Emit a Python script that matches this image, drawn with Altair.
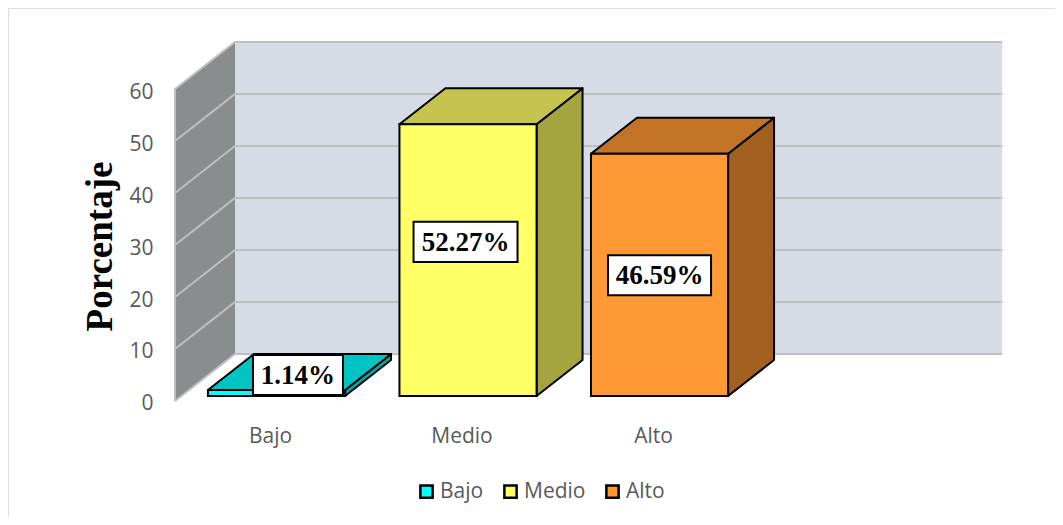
import altair as alt
import pandas as pd

# --- chart values -------------------------------------------------------
categories = ["Bajo", "Medio", "Alto"]
values = [1.14, 52.27, 46.59]
value_labels = ["1.14%", "52.27%", "46.59%"]
front_colors = ["#00FFFF", "#FFFF66", "#FF9933"]
top_colors = ["#00C4C4", "#C4C44E", "#C27326"]
side_colors = ["#00A6A6", "#A5A540", "#A36120"]
y_ticks = [0, 10, 20, 30, 40, 50, 60]

# --- layout and oblique projection --------------------------------------
W, H = 1047, 509
X_DOMAIN = [-1.4021, 4.065]       # category slots across the view
Y_DOMAIN = [-22.31, 75.58]        # value units down the view
DEPTH_X = 0.3133                  # slots of shift from front to back wall
DEPTH_Y = 9.04                    # value units of shift, front to back wall
WALL_LEFT, WALL_RIGHT = -0.53, 3.476
Z_FRONT, Z_DEPTH = 0.106, 0.766   # where the bars stand in the depth
HALF_BAR = 0.358
LABEL_DX = [0.112, -0.013, 0.0]   # label box offset from bar centre, slots
LABEL_CY = [5.0, 30.6, 24.2]      # label box centre height, value units
BOX_W = [0.47, 0.543, 0.538]      # label box full width, slots
BOX_H = 7.7                       # label box full height, value units

x_scale = alt.Scale(domain=X_DOMAIN, range=[0, W], nice=False, zero=False)
y_scale = alt.Scale(domain=Y_DOMAIN, range=[H, 0], nice=False, zero=False)


def px(s, z=0.0):
    return s + z * DEPTH_X


def py(v, z=0.0):
    return v + z * DEPTH_Y


X = alt.X("x:Q", scale=x_scale, axis=None)
Y = alt.Y("y:Q", scale=y_scale, axis=None)

# --- walls --------------------------------------------------------------
top_v, bottom_v = y_ticks[-1], y_ticks[0]
walls = pd.DataFrame(
    [
        dict(x=px(WALL_LEFT, 1), y=py(top_v, 1), y2=py(bottom_v, 1), face="back", fill="#D6DCE5"),
        dict(x=px(WALL_RIGHT, 1), y=py(top_v, 1), y2=py(bottom_v, 1), face="back", fill="#D6DCE5"),
        dict(x=px(WALL_LEFT, 0), y=py(top_v, 0), y2=py(bottom_v, 0), face="left", fill="#8A8D90"),
        dict(x=px(WALL_LEFT, 1), y=py(top_v, 1), y2=py(bottom_v, 1), face="left", fill="#8A8D90"),
    ]
)
walls_layer = (
    alt.Chart(walls)
    .mark_area(orient="vertical")
    .encode(
        x=alt.X(
            "x:Q",
            scale=x_scale,
            axis=alt.Axis(
                values=[0, 1, 2],
                labelExpr="['Bajo','Medio','Alto'][datum.value]",
                grid=False,
                domain=False,
                ticks=False,
                title=None,
                offset=-92,
                labelPadding=0,
                labelOffset=-6.5,
                labelFont="Open Sans",
                labelFontSize=21,
                labelColor="#595959",
            ),
        ),
        y=alt.Y(
            "y:Q",
            scale=y_scale,
            axis=alt.Axis(
                values=y_ticks,
                grid=False,
                domain=False,
                ticks=False,
                offset=-167,
                labelPadding=22,
                labelOffset=3,
                labelFont="Open Sans",
                labelFontSize=21,
                labelColor="#595959",
                title="Porcentaje",
                titleFont="Liberation Serif",
                titleFontWeight="bold",
                titleFontSize=37,
                titleColor="#000000",
                titleX=-56,
                titleY=238,
            ),
        ),
        y2="y2:Q",
        fill=alt.Fill("fill:N", scale=None),
        detail="face:N",
    )
)

# --- grid lines on both walls -------------------------------------------
grid_rows = []
for t in y_ticks:
    grid_rows.append(dict(x=px(WALL_LEFT, 0), y=py(t, 0), line=f"g{t}"))
    grid_rows.append(dict(x=px(WALL_LEFT, 1), y=py(t, 1), line=f"g{t}"))
    grid_rows.append(dict(x=px(WALL_RIGHT, 1), y=py(t, 1), line=f"g{t}"))
grid_rows.append(dict(x=px(WALL_LEFT, 0), y=py(top_v, 0), line="edge"))
grid_rows.append(dict(x=px(WALL_LEFT, 0), y=py(bottom_v, 0), line="edge"))
grid_layer = (
    alt.Chart(pd.DataFrame(grid_rows))
    .mark_line(color="#BFBFBF", strokeWidth=2)
    .encode(x=X, y=Y, detail="line:N")
)

# --- bar side and top faces ---------------------------------------------
z0, z1 = Z_FRONT, Z_FRONT + Z_DEPTH
d_x = Z_DEPTH * DEPTH_X
d_y = Z_DEPTH * DEPTH_Y
face_rows = []
front_rows = []
for i, (cat, v) in enumerate(zip(categories, values)):
    a, b = i - HALF_BAR, i + HALF_BAR
    base, top = py(0, z0), py(v, z0)
    front_rows.append(dict(x=a, x2=b, y=base, y2=top, cat=cat))
    face_rows += [
        dict(x=b, y=top, y2=base, face=f"s{i}", fill=side_colors[i]),
        dict(x=b + d_x, y=top + d_y, y2=base + d_y, face=f"s{i}", fill=side_colors[i]),
        dict(x=a, y=top, y2=top, face=f"t{i}", fill=top_colors[i]),
        dict(x=a + d_x, y=top + d_y, y2=top, face=f"t{i}", fill=top_colors[i]),
        dict(x=b, y=top + d_y, y2=top, face=f"t{i}", fill=top_colors[i]),
        dict(x=b + d_x, y=top + d_y, y2=top + d_y, face=f"t{i}", fill=top_colors[i]),
    ]
faces_layer = (
    alt.Chart(pd.DataFrame(face_rows))
    .mark_area(orient="vertical", stroke="#000000", strokeWidth=2, strokeJoin="round")
    .encode(
        x=X,
        y=Y,
        y2="y2:Q",
        fill=alt.Fill("fill:N", scale=None),
        detail="face:N",
    )
)
front_layer = (
    alt.Chart(pd.DataFrame(front_rows))
    .mark_rect(stroke="#000000", strokeWidth=2)
    .encode(
        x=X,
        x2="x2:Q",
        y=Y,
        y2="y2:Q",
        color=alt.Color(
            "cat:N",
            scale=alt.Scale(domain=categories, range=front_colors),
            legend=alt.Legend(
                title=None,
                orient="none",
                legendX=408,
                legendY=473,
                direction="horizontal",
                columns=3,
                symbolType="square",
                symbolSize=150,
                symbolStrokeColor="#000000",
                symbolStrokeWidth=2.5,
                symbolOpacity=1,
                labelFont="Open Sans",
                labelFontSize=21,
                labelColor="#595959",
                labelOffset=3,
                columnPadding=15,
            ),
        ),
    )
)

# --- data labels --------------------------------------------------------
label_rows = []
for i, txt in enumerate(value_labels):
    cx = i + LABEL_DX[i]
    label_rows.append(
        dict(
            x=cx - BOX_W[i] / 2,
            x2=cx + BOX_W[i] / 2,
            cx=cx,
            y=LABEL_CY[i] - BOX_H / 2,
            y2=LABEL_CY[i] + BOX_H / 2,
            cy=LABEL_CY[i] - 0.2,
            label=txt,
        )
    )
labels = pd.DataFrame(label_rows)
box_layer = (
    alt.Chart(labels)
    .mark_rect(fill="#FFFFFF", stroke="#000000", strokeWidth=2)
    .encode(x=X, x2="x2:Q", y=Y, y2="y2:Q")
)
text_layer = (
    alt.Chart(labels)
    .mark_text(font="Liberation Serif", fontWeight="bold", fontSize=27, color="#000000", baseline="middle")
    .encode(
        x=alt.X("cx:Q", scale=x_scale, axis=None),
        y=alt.Y("cy:Q", scale=y_scale, axis=None),
        text="label:N",
    )
)

# --- outer frame (top and left edges only) ------------------------------
frame_top = alt.Chart(pd.DataFrame({"a": [0]})).mark_rule(color="#DDDDDD", strokeWidth=2).encode(
    x=alt.value(0), x2=alt.value(W), y=alt.value(0)
)
frame_left = alt.Chart(pd.DataFrame({"a": [0]})).mark_rule(color="#DDDDDD", strokeWidth=2).encode(
    x=alt.value(0), y=alt.value(0), y2=alt.value(H)
)

chart = (
    alt.layer(
        frame_top,
        frame_left,
        walls_layer,
        grid_layer,
        faces_layer,
        front_layer,
        box_layer,
        text_layer,
    )
    .resolve_axis(x="independent", y="independent")
    .properties(width=W, height=H, padding=0, autosize=alt.AutoSizeParams(type="none"))
    .configure_view(stroke=None)
    .configure_axis(labelOverlap=False)
)

chart.save("out.html", embed_options={"renderer": "svg", "actions": False})
